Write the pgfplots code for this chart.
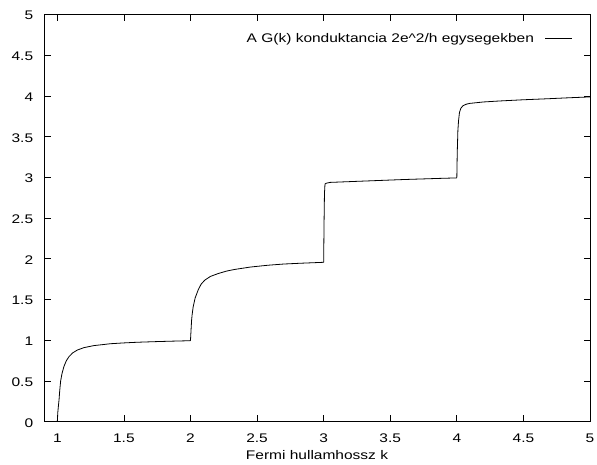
\documentclass[border=0pt]{standalone}
\usepackage{pgfplots}
\pgfplotsset{compat=1.18}
\usepackage{fontspec}
\setmainfont{Liberation Sans}[FakeStretch=1.24]
\begin{document}
\fontsize{12.5bp}{15bp}\selectfont
\begin{tikzpicture}[font=\fontsize{12.5bp}{15bp}\selectfont]
\begin{axis}[
  scale only axis, width=546bp, height=407bp,
  xmin=0.9, xmax=5, ymin=0, ymax=5,
  xtick={1,1.5,2,2.5,3,3.5,4,4.5,5},
  ytick={0,0.5,1,1.5,2,2.5,3,3.5,4,4.5,5},
  /pgf/number format/assume math mode=true,
  tick pos=both, tick align=inside,
  major tick length=6.5bp,
  axis line style={black, line width=0.8bp},
  tick style={black, line width=0.8bp},
  xticklabel style={anchor=base, yshift=-20.3bp},
  yticklabel style={anchor=east, xshift=-6.5bp, yshift=-1bp},
  xlabel={Fermi hullamhossz k},
  x label style={at={(axis description cs:0.5,0)}, anchor=base, yshift=-37.5bp},
  legend plot pos=right,
  legend style={draw=none, fill=none, at={(1,1)}, anchor=east, xshift=-17bp, yshift=-24bp,
    inner sep=0pt, column sep=11bp, nodes={inner sep=0pt}, cells={anchor=east}},
  legend image code/.code={\draw[#1] (0bp,0bp) -- (27bp,0bp);},
]
\addplot[black, line width=0.8bp] coordinates {
(1.000,0.00) (1.004,0.12) (1.008,0.19) (1.013,0.27) (1.018,0.38) (1.025,0.50) (1.035,0.59) (1.05,0.68)
(1.068,0.75) (1.088,0.80) (1.115,0.845) (1.15,0.88) (1.2,0.91) (1.275,0.935) (1.4,0.958)
(1.5,0.968) (1.6,0.976) (1.725,0.983) (1.85,0.989) (1.997,0.995)
(2.000,1.00) (2.004,1.12) (2.008,1.24) (2.012,1.31) (2.02,1.41) (2.035,1.52) (2.058,1.62)
(2.08,1.69) (2.108,1.74) (2.15,1.785) (2.208,1.82) (2.27,1.85) (2.33,1.87) (2.45,1.90)
(2.58,1.922) (2.7,1.937) (2.83,1.947) (2.997,1.958)
(3.000,1.96) (3.003,2.45) (3.006,2.80) (3.010,2.92) (3.02,2.93) (3.05,2.94) (3.3,2.956)
(3.6,2.975) (3.85,2.988) (3.997,2.995)
(4.000,3.00) (4.003,3.30) (4.008,3.58) (4.013,3.70) (4.02,3.80) (4.03,3.85) (4.045,3.88)
(4.07,3.90) (4.095,3.91) (4.2,3.928) (4.32,3.94) (4.5,3.955) (4.69,3.968) (4.85,3.98) (5.0,3.99)
};
\addlegendentry{A G(k) konduktancia 2e\textasciicircum 2/h egysegekben}
\end{axis}
\pgfresetboundingbox
\path ([shift={(-44bp,-43.3bp)}]current axis.south west) rectangle ([shift={(7bp,14.7bp)}]current axis.north east);
\end{tikzpicture}
\end{document}
